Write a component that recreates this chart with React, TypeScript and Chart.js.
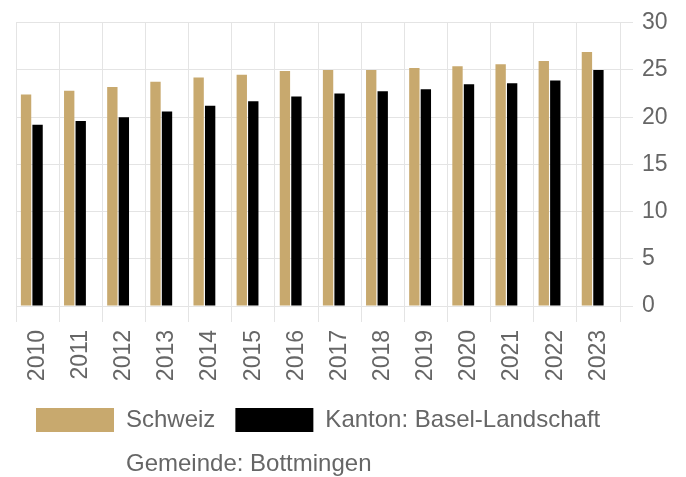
import React, { useEffect, useRef } from 'react';
import { Chart, registerables } from 'chart.js';

Chart.register(...registerables);

const years = ['2010', '2011', '2012', '2013', '2014', '2015', '2016', '2017', '2018', '2019', '2020', '2021', '2022', '2023'];
const seriesNames = ['Schweiz', 'Kanton: Basel-Landschaft', 'Gemeinde: Bottmingen'];
const schweiz = [22.4, 22.8, 23.2, 23.75, 24.2, 24.5, 24.9, 25.0, 25.0, 25.2, 25.4, 25.6, 25.95, 26.9];
const baselLandschaft = [19.2, 19.6, 20.0, 20.6, 21.2, 21.7, 22.2, 22.5, 22.75, 22.97, 23.5, 23.6, 23.9, 25.0];
const bottmingen: (number | null)[] = [];
const yMin = 0;
const yMax = 30;
const yStep = 5;

const FONT = "'Liberation Sans', Arial, Helvetica, sans-serif";

export default function App() {
  const ref = useRef<HTMLCanvasElement | null>(null);

  useEffect(() => {
    if (!ref.current) return;
    const chart = new Chart(ref.current, {
      type: 'bar',
      data: {
        labels: years,
        datasets: [
          { label: seriesNames[0], data: schweiz, backgroundColor: '#C8A96E', borderWidth: 0 },
          { label: seriesNames[1], data: baselLandschaft, backgroundColor: '#000000', borderWidth: 0 },
          { label: seriesNames[2], data: bottmingen, backgroundColor: 'rgba(0,0,0,0)', borderColor: 'rgba(0,0,0,0)', borderWidth: 0 },
        ],
      },
      options: {
        animation: false,
        responsive: false,
        devicePixelRatio: 1,
        layout: { padding: { left: 16, top: 18, right: 0, bottom: 0 } },
        plugins: {
          tooltip: { enabled: false },
          legend: {
            position: 'bottom',
            align: 'start',
            labels: {
              boxWidth: 78,
              boxHeight: 24,
              padding: 20,
              color: '#666666',
              font: { family: FONT, size: 24 },
            },
          },
        },
        scales: {
          x: {
            grid: { color: '#e4e4e4', tickLength: 16, offset: true },
            border: { display: false },
            ticks: {
              minRotation: 90,
              maxRotation: 90,
              padding: 8,
              color: '#666666',
              font: { family: FONT, size: 23 },
            },
            afterFit: (scale: any) => { scale.height = 82; },
          },
          y: {
            position: 'right',
            min: yMin,
            max: yMax,
            grid: { color: '#e4e4e4', tickLength: 13 },
            border: { display: true, color: '#e4e4e4' },
            ticks: {
              stepSize: yStep,
              padding: 9,
              color: '#666666',
              font: { family: FONT, size: 23 },
            },
            afterFit: (scale: any) => { scale.width = 66; },
          },
        },
      },
    });
    return () => chart.destroy();
  }, []);

  return (
    <div style={{ position: 'fixed', left: 0, top: 0, width: 686, height: 477, overflow: 'hidden', background: '#fff' }}>
      <canvas ref={ref} width={686} height={486} style={{ display: 'block' }} />
    </div>
  );
}
